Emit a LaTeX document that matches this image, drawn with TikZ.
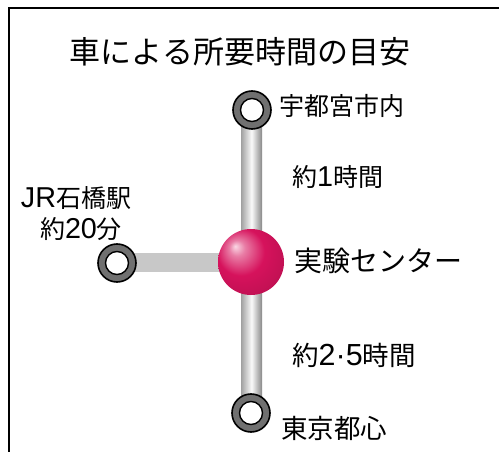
\documentclass[tikz,border=0pt]{standalone}
\usepackage{fontspec}
\setmainfont{Noto Sans CJK JP}
\newfontfamily\lat[Scale=1.15]{Liberation Sans}
\usetikzlibrary{calc,backgrounds}
\definecolor{ringgray}{RGB}{112,112,112}
\definecolor{barlight}{RGB}{200,200,200}
\definecolor{barside}{RGB}{160,160,160}
\definecolor{hubred}{RGB}{214,18,92}
\definecolor{hubhi}{RGB}{250,215,228}
\definecolor{hubdark}{RGB}{120,5,45}
\pgfdeclareradialshading{hubball}{\pgfpoint{-12bp}{12bp}}{%
  color(0bp)=(hubhi);
  color(6bp)=(hubred!55!white);
  color(18bp)=(hubred);
  color(34bp)=(hubred!88!black);
  color(44bp)=(hubdark);
  color(50bp)=(hubdark)}
\begin{document}
\begin{tikzpicture}[x=1pt,y=-1pt,
  ring/.style={circle,draw=black,line width=1.6pt,fill=ringgray,minimum size=38pt,inner sep=0pt,
    path picture={\draw[black,line width=1.4pt,fill=white] (path picture bounding box.center) circle (11.5pt);}},
  hub/.style={circle,inner sep=0pt,minimum size=66pt,shading=hubball},
  lbl/.style={font=\fontsize{25}{30}\selectfont,inner sep=0pt},
  lblb/.style={font=\fontsize{26.5}{31}\selectfont,inner sep=0pt},
  bigl/.style={font=\fontsize{28}{33}\selectfont,inner sep=0pt},
  titl/.style={font=\fontsize{31}{36}\selectfont,inner sep=0pt},
  frame/.style={line width=2.2pt,black}
]
\useasboundingbox (0,0) rectangle (499,452);
\coordinate (fa) at (499,8);
\coordinate (fb) at (9,8);
\coordinate (fc) at (9,452);
\draw[frame] (fa) -- (fb) -- (fc);

\node[titl] (title) at (240,52) {車による所要時間の目安};

\node[ring] (utsu) at (252,110) {};
\node[ring] (tokyo) at (251,413) {};
\node[ring] (jr) at (117,263) {};
\node[hub] (center) at (251,262) {};

\begin{scope}[on background layer]
  \shade[left color=barside,right color=barside!85!black,middle color=white!96!gray]
    ($(utsu.center)+(-11,0)$) rectangle ($(tokyo.center)+(11,0)$);
  \fill[barlight] ($(jr.center)+(0,-10)$) rectangle ($(center.center)+(0,10)$);
\end{scope}

\node[lbl,anchor=west] (lutsu) at (279,106) {宇都宮市内};
\node[lbl,anchor=west] (l1h) at (292,177) {約{\lat 1}時間};
\node[lbl] (ljr) at (76,198) {{\lat JR}石橋駅};
\node[lbl] (l20) at (81,229) {約{\lat 20}分};
\node[bigl,anchor=west] (lcen) at (294,261) {実験センター};
\node[lblb,anchor=west] (l25) at (292,355) {約{\lat 2·5}時間};
\node[lblb,anchor=west] (ltok) at (281,428) {東京都心};
\end{tikzpicture}
\end{document}
